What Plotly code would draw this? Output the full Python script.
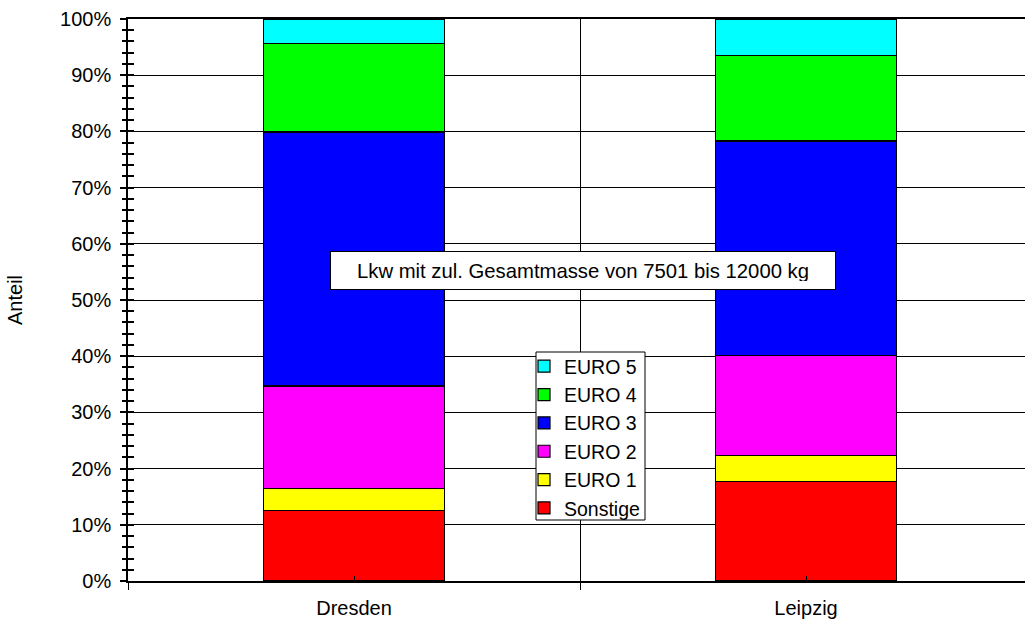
import plotly.graph_objects as go

categories = ["Dresden", "Leipzig"]
series_names = ["Sonstige", "EURO 1", "EURO 2", "EURO 3", "EURO 4", "EURO 5"]
sonstige = [12.6, 17.7]
euro1 = [3.8, 4.7]
euro2 = [18.3, 17.7]
euro3 = [45.2, 38.2]
euro4 = [15.8, 15.2]
euro5 = [4.3, 6.5]
series_values = [sonstige, euro1, euro2, euro3, euro4, euro5]
colors = ["#ff0000", "#ffff00", "#ff00ff", "#0000ff", "#00ff00", "#00ffff"]
y_tick_values = [0, 10, 20, 30, 40, 50, 60, 70, 80, 90, 100]
y_tick_labels = [f"{v}%" for v in y_tick_values]
annotation_text = "Lkw mit zul. Gesamtmasse von 7501 bis 12000 kg"

FONT = "Liberation Sans, Arial, sans-serif"

# plot area in pixels
L, T, B = 128, 19, 581
W, H = 1025 - L, B - T

def px_x(px):
    return (px - L) / W

def px_y(py):
    return 1 - (py - T) / H

fig = go.Figure()
for name, vals, col in zip(series_names, series_values, colors):
    fig.add_trace(go.Bar(
        x=categories, y=vals, name=name, width=0.4,
        marker=dict(color=col, line=dict(color="#000000", width=1.2)),
    ))

# helper trace for inner tick marks on overlay axes
fig.add_trace(go.Scatter(x=[categories[0]], y=[None], xaxis="x2", yaxis="y2",
                         showlegend=False, hoverinfo="skip", mode="markers"))

fig.update_layout(
    width=1025, height=625,
    margin=dict(l=L, r=0, t=T, b=625 - B),
    paper_bgcolor="white", plot_bgcolor="white",
    barmode="stack",
    font=dict(family=FONT, size=20, color="#000000"),
    xaxis=dict(
        type="category", range=[-0.5, 1.4845], tickson="boundaries",
        showgrid=True, gridcolor="#000000", gridwidth=1,
        showline=True, linecolor="#000000", linewidth=2, mirror=True,
        ticks="outside", ticklen=7, tickcolor="#000000", tickwidth=1,
        tickfont=dict(size=20), zeroline=False, ticklabelstandoff=8,
    ),
    xaxis2=dict(
        type="category", overlaying="x", side="bottom", anchor="y2",
        range=[-0.5, 1.4845], categoryarray=categories,
        showticklabels=False, showgrid=False, zeroline=False, showline=False,
        ticks="inside", ticklen=5, tickcolor="#000000", tickwidth=1,
    ),
    yaxis=dict(
        range=[0, 100], tickvals=y_tick_values, ticktext=y_tick_labels,
        showgrid=True, gridcolor="#000000", gridwidth=1,
        showline=True, linecolor="#000000", linewidth=1.5,
        ticks="outside", ticklen=6, tickcolor="#000000", tickwidth=1.5,
        minor=dict(dtick=2, ticks="outside", ticklen=4, tickcolor="#000000", tickwidth=1.5, showgrid=False),
        title=dict(text="Anteil", font=dict(size=20), standoff=32),
        zeroline=False, tickfont=dict(size=20), ticklabelstandoff=5,
    ),
    yaxis2=dict(
        overlaying="y", side="left", anchor="x2", range=[0, 100], dtick=10,
        showticklabels=False, showgrid=False, zeroline=False, showline=False,
        ticks="inside", ticklen=6, tickcolor="#000000", tickwidth=1.5,
        minor=dict(dtick=2, ticks="inside", ticklen=6, tickcolor="#000000", tickwidth=1.5),
    ),
    legend=dict(
        x=px_x(524), y=px_y(347), xanchor="left", yanchor="top",
        traceorder="reversed", bgcolor="rgba(0,0,0,0)", borderwidth=0,
        font=dict(size=19.5, family=FONT), tracegroupgap=0,
    ),
    shapes=[dict(
        type="rect", xref="paper", yref="paper", layer="above",
        x0=px_x(536), x1=px_x(645), y0=px_y(520), y1=px_y(352),
        fillcolor="white", line=dict(color="#000000", width=1),
    )],
    annotations=[dict(
        text=annotation_text, x=px_x(583), y=px_y(270), xref="paper", yref="paper",
        showarrow=False, font=dict(size=20.3, family=FONT),
        bgcolor="white", bordercolor="#000000", borderwidth=1,
        width=488, height=21, borderpad=8,
    )],
    showlegend=True,
)

fig.write_html("out.html")
